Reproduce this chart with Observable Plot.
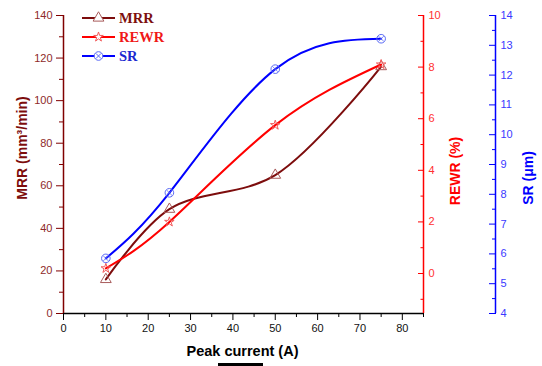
<!DOCTYPE html>
<html><head><meta charset="utf-8">
<script src="https://cdn.jsdelivr.net/npm/d3@7"></script>
<script src="https://cdn.jsdelivr.net/npm/@observablehq/plot@0.6"></script>
<style>
body{margin:0;background:#fff;}
#chart{position:relative;width:542px;height:366px;}
#chart svg{position:absolute;left:0;top:0;}
</style></head><body><div id="chart"></div>
<script>
// ---- data ----
const current = [10, 25, 50, 75];
const mrr = [16, 49, 65, 116];
const rewr = [0.2, 2.0, 5.75, 8.1];
const sr = [5.85, 8.05, 12.2, 13.22];
const seriesNames = ["MRR", "REWR", "SR"];
// ---- ticks ----
const xTicks = [0, 10, 20, 30, 40, 50, 60, 70, 80];
const xMinor = [5, 15, 25, 35, 45, 55, 65, 75, 85];
const mrrTicks = [0, 20, 40, 60, 80, 100, 120, 140];
const mrrMinor = [10, 30, 50, 70, 90, 110, 130];
const rewrTicks = [0, 2, 4, 6, 8, 10];
const rewrMinor = [-1, 1, 3, 5, 7, 9];
const srTicks = [4, 5, 6, 7, 8, 9, 10, 11, 12, 13, 14];
const srMinor = [4.5, 5.5, 6.5, 7.5, 8.5, 9.5, 10.5, 11.5, 12.5, 13.5];

const W = 542, H = 366;
const M = {marginLeft: 63, marginRight: 119, marginTop: 15, marginBottom: 53};
const C = {MRR: "#7d0d0d", REWR: "#ff0000", SR: "#0000ff"};
const MK = {MRR: "#a85c5c", REWR: "#f25a5a", SR: "#5a6af5"};
const style = {fontFamily: "Arial, 'Liberation Sans', sans-serif", fontSize: "11px", background: "none"};
const rows = current.map((c, i) => ({c, mrr: mrr[i], rewr: rewr[i], sr: sr[i]}));
const blank = () => "";

const base = Plot.plot({
  width: W, height: H, ...M, style,
  x: {domain: [0, 85], label: null},
  y: {domain: [0, 140], label: null},
  marks: [
    Plot.ruleY([0], {stroke: "#000", strokeWidth: 1.5}),
    Plot.axisX({ticks: xTicks, tickSize: 7, tickPadding: 4, stroke: "#000", fill: "#111", tickFormat: d3.format("d"), label: null}),
    Plot.axisX({ticks: xMinor, tickSize: 4, tickFormat: blank, stroke: "#000", label: null}),
    Plot.ruleX([0], {stroke: "#800000", strokeWidth: 1.5}),
    Plot.axisY({ticks: mrrTicks, tickSize: 7, tickPadding: 4, stroke: "#800000", fill: "#8e2a2a", tickFormat: d3.format("d"), label: null}),
    Plot.axisY({ticks: mrrMinor, tickSize: 4, tickFormat: blank, stroke: "#800000", label: null}),
    Plot.line(rows, {x: "c", y: "mrr", curve: "catmull-rom", stroke: C.MRR, strokeWidth: 2}),
    Plot.dot(rows, {x: "c", y: "mrr", symbol: "triangle", r: 4, stroke: MK.MRR, fill: "none", strokeWidth: 1})
  ]
});

const pRewr = Plot.plot({
  width: W, height: H, ...M, style,
  x: {domain: [0, 85], label: null, axis: null},
  y: {domain: [-1.55, 10], label: null},
  marks: [
    Plot.ruleX([85], {stroke: C.REWR, strokeWidth: 1.5}),
    Plot.axisY({anchor: "right", ticks: rewrTicks, tickSize: 6, dx: -6, tickFormat: blank, stroke: C.REWR, label: null}),
    Plot.axisY({anchor: "right", ticks: rewrMinor, tickSize: 3.5, dx: -3.5, tickFormat: blank, stroke: C.REWR, label: null}),
    Plot.axisY({anchor: "right", ticks: rewrTicks, tickSize: 0, tickPadding: 5, fill: "#ff3030", tickFormat: d3.format("d"), label: null}),
    Plot.line(rows, {x: "c", y: "rewr", curve: "natural", stroke: C.REWR, strokeWidth: 2}),
    Plot.dot(rows, {x: "c", y: "rewr", symbol: "star", r: 3, stroke: MK.REWR, fill: "none", strokeWidth: 1})
  ]
});

const pSr = Plot.plot({
  width: W, height: H, ...M, style,
  x: {domain: [0, 85], label: null, axis: null},
  y: {domain: [4, 14], label: null},
  marks: [
    Plot.ruleX([85], {stroke: C.SR, strokeWidth: 1.5, dx: 72}),
    Plot.axisY({anchor: "right", ticks: srTicks, tickSize: 7, dx: 65, tickFormat: blank, stroke: C.SR, label: null}),
    Plot.axisY({anchor: "right", ticks: srMinor, tickSize: 4, dx: 68, tickFormat: blank, stroke: C.SR, label: null}),
    Plot.axisY({anchor: "right", ticks: srTicks, tickSize: 0, tickPadding: 5, dx: 72, fill: "#3a3aff", tickFormat: d3.format("d"), label: null}),
    Plot.line(rows, {x: "c", y: "sr", curve: "natural", stroke: C.SR, strokeWidth: 2}),
    Plot.dot(rows, {x: "c", y: "sr", symbol: "circle", r: 4.3, stroke: MK.SR, fill: "none", strokeWidth: 1}),
    Plot.dot(rows, {x: "c", y: "sr", symbol: "times", r: 2.5, stroke: MK.SR, strokeWidth: 0.8})
  ]
});

const chart = document.getElementById("chart");
chart.append(base, pRewr, pSr);

// ---- titles & legend overlay ----
const svg = d3.select(chart).append("svg").attr("width", W).attr("height", H)
  .style("font-family", "Arial, 'Liberation Sans', sans-serif");

svg.append("text").attr("transform", "translate(27,148) rotate(-90)")
  .attr("text-anchor", "middle").attr("font-weight", "bold").attr("font-size", 14)
  .attr("fill", "#7d0d0d").text("MRR (mm³/min)");
svg.append("text").attr("transform", "translate(460,171) rotate(-90)")
  .attr("text-anchor", "middle").attr("font-weight", "bold").attr("font-size", 14)
  .attr("fill", "#ff0000").text("REWR (%)");
svg.append("text").attr("transform", "translate(533,178) rotate(-90)")
  .attr("text-anchor", "middle").attr("font-weight", "bold").attr("font-size", 14)
  .attr("fill", "#0000ff").text("SR (μm)");
svg.append("text").attr("x", 242.5).attr("y", 356)
  .attr("text-anchor", "middle").attr("font-weight", "bold").attr("font-size", 14.5)
  .attr("fill", "#000").text("Peak current (A)");
svg.append("rect").attr("x", 218).attr("y", 363).attr("width", 45).attr("height", 3).attr("fill", "#000");

const symbols = {MRR: [[d3.symbolTriangle, 4]], REWR: [[d3.symbolStar, 3]], SR: [[d3.symbolCircle, 4.3], [d3.symbolTimes, 2.5]]};
seriesNames.forEach((name, i) => {
  const cy = 18 + i * 19;
  const g = svg.append("g");
  g.append("line").attr("x1", 82).attr("x2", 115).attr("y1", cy).attr("y2", cy)
    .attr("stroke", C[name]).attr("stroke-width", 2);
  symbols[name].forEach(([sym, r]) => {
    g.append("path").attr("transform", `translate(98.5,${cy})`)
      .attr("d", d3.symbol(sym, r * r * Math.PI)())
      .attr("fill", sym === d3.symbolTimes ? "none" : "white").attr("stroke", MK[name]).attr("stroke-width", 1);
  });
  g.append("text").attr("x", 119).attr("y", cy + 5)
    .attr("font-family", "'Times New Roman', 'Liberation Serif', serif").attr("font-weight", "bold")
    .attr("font-size", 14.5).attr("fill", name === "MRR" ? "#7d1010" : name === "REWR" ? "#f01818" : "#1a28d0")
    .text(name);
});
</script></body></html>
